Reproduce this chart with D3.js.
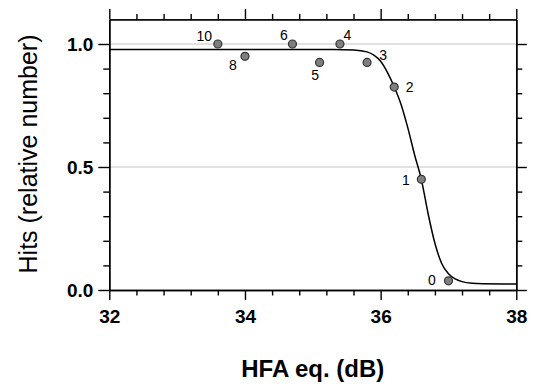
<!DOCTYPE html>
<html>
<head>
<meta charset="utf-8">
<script src="https://cdn.jsdelivr.net/npm/d3@7"></script>
<style>
  body { margin: 0; background: #fff; }
  svg { display: block; font-family: "Liberation Sans", Arial, sans-serif; }
  .axis path, .axis line { stroke: #000; stroke-width: 1.4px; }
  .axis text { font-size: 19px; font-weight: bold; fill: #000; }
  .grid { stroke: #c4c4c4; stroke-width: 1px; }
  .fit { fill: none; stroke: #000; stroke-width: 1.5px; }
  .dot { fill: #7f7f7f; stroke: #333; stroke-width: 1.2px; }
  .dotLabel { font-size: 14px; fill: #000; text-anchor: middle; }
</style>
</head>
<body>
<script>
(function(){
  //measured points
  var pointLabels = ["10", "8", "6", "5", "4", "3", "2", "1", "0"];
  var pointX = [33.6, 34.0, 34.7, 35.1, 35.4, 35.8, 36.2, 36.6, 37.0];
  var pointY = [1.0, 0.95, 1.0, 0.925, 1.0, 0.925, 0.825, 0.45, 0.0375];

  //fitted curve
  var curveX = [32, 35.0, 35.3, 35.6, 35.8, 35.9, 36.0, 36.1, 36.2, 36.3, 36.4, 36.5, 36.6, 36.7, 36.8, 36.9, 37.0, 37.1, 37.2, 37.35, 37.5, 38];
  var curveY = [0.978, 0.978, 0.978, 0.976, 0.968, 0.955, 0.93, 0.885, 0.826, 0.755, 0.66, 0.55, 0.45, 0.31, 0.19, 0.108, 0.066, 0.045, 0.034, 0.027, 0.025, 0.024];

  //axis ticks
  var xMajor = [32, 34, 36, 38];
  var xMinor = [32.4, 32.8, 33.2, 33.6, 34.4, 34.8, 35.2, 35.6, 36.4, 36.8, 37.2, 37.6];
  var yMajor = [0, 0.5, 1.0];
  var yMinor = [0.1, 0.2, 0.3, 0.4, 0.6, 0.7, 0.8, 0.9];
  var gridY = [0.5, 1.0];

  //label offsets from each point (layout only)
  var labelOffsets = [[-13.5, -3], [-12, 14], [-8.5, -4.5], [-4.5, 18], [7.5, -4.5], [16, -2], [15.5, 5], [-15.5, 6], [-16.5, 4.5]];

  var width = 533, height = 384;
  var left = 109.3, right = 516.3, top = 19.4, bottom = 290;

  var x = d3.scaleLinear().domain([32, 38]).range([left, right]);
  var y = d3.scaleLinear().domain([0, 1.1]).range([bottom, top]);

  var svg = d3.select("body").append("svg")
      .attr("width", width)
      .attr("height", height);

  //gray reference lines
  svg.selectAll(".grid")
      .data(gridY)
      .enter()
      .append("line")
      .attr("class", "grid")
      .attr("x1", left)
      .attr("x2", right)
      .attr("y1", function(d){ return y(d); })
      .attr("y2", function(d){ return y(d); });

  //bottom axis
  svg.append("g")
      .attr("class", "axis")
      .attr("transform", "translate(0," + bottom + ")")
      .call(d3.axisBottom(x).tickValues(xMajor).tickSize(10).tickSizeOuter(0).tickPadding(10).tickFormat(d3.format("d")));
  svg.append("g")
      .attr("class", "axis")
      .attr("transform", "translate(0," + bottom + ")")
      .call(d3.axisBottom(x).tickValues(xMinor).tickSize(5.5).tickSizeOuter(0).tickFormat(""));

  //top axis
  svg.append("g")
      .attr("class", "axis")
      .attr("transform", "translate(0," + top + ")")
      .call(d3.axisTop(x).tickValues(xMajor).tickSize(10.5).tickSizeOuter(0).tickFormat(""));
  svg.append("g")
      .attr("class", "axis")
      .attr("transform", "translate(0," + top + ")")
      .call(d3.axisTop(x).tickValues(xMinor).tickSize(5.5).tickSizeOuter(0).tickFormat(""));

  //left axis
  svg.append("g")
      .attr("class", "axis")
      .attr("transform", "translate(" + left + ",0)")
      .call(d3.axisLeft(y).tickValues(yMajor).tickSize(11).tickSizeOuter(0).tickPadding(5).tickFormat(d3.format(".1f")));
  svg.append("g")
      .attr("class", "axis")
      .attr("transform", "translate(" + left + ",0)")
      .call(d3.axisLeft(y).tickValues(yMinor).tickSize(6).tickSizeOuter(0).tickFormat(""));

  //right axis
  svg.append("g")
      .attr("class", "axis")
      .attr("transform", "translate(" + right + ",0)")
      .call(d3.axisRight(y).tickValues(yMajor).tickSize(10.5).tickSizeOuter(0).tickFormat(""));
  svg.append("g")
      .attr("class", "axis")
      .attr("transform", "translate(" + right + ",0)")
      .call(d3.axisRight(y).tickValues(yMinor).tickSize(6).tickSizeOuter(0).tickFormat(""));

  //fitted curve
  var line = d3.line()
      .x(function(d){ return x(d[0]); })
      .y(function(d){ return y(d[1]); })
      .curve(d3.curveMonotoneX);

  svg.append("path")
      .attr("class", "fit")
      .attr("d", line(d3.zip(curveX, curveY)));

  //points and their labels
  var pts = d3.range(pointX.length);

  svg.selectAll(".dot")
      .data(pts)
      .enter()
      .append("circle")
      .attr("class", "dot")
      .attr("cx", function(i){ return x(pointX[i]); })
      .attr("cy", function(i){ return y(pointY[i]); })
      .attr("r", 4);

  svg.selectAll(".dotLabel")
      .data(pts)
      .enter()
      .append("text")
      .attr("class", "dotLabel")
      .attr("x", function(i){ return x(pointX[i]) + labelOffsets[i][0]; })
      .attr("y", function(i){ return y(pointY[i]) + labelOffsets[i][1]; })
      .text(function(i){ return pointLabels[i]; });

  //axis titles
  svg.append("text")
      .attr("x", (left + right) / 2)
      .attr("y", 376.7)
      .attr("text-anchor", "middle")
      .style("font-size", "24px")
      .style("font-weight", "bold")
      .text("HFA eq. (dB)");

  svg.append("text")
      .attr("transform", "translate(37,154) rotate(-90)")
      .attr("text-anchor", "middle")
      .style("font-size", "25px")
      .text("Hits (relative number)");
})();
</script>
</body>
</html>
